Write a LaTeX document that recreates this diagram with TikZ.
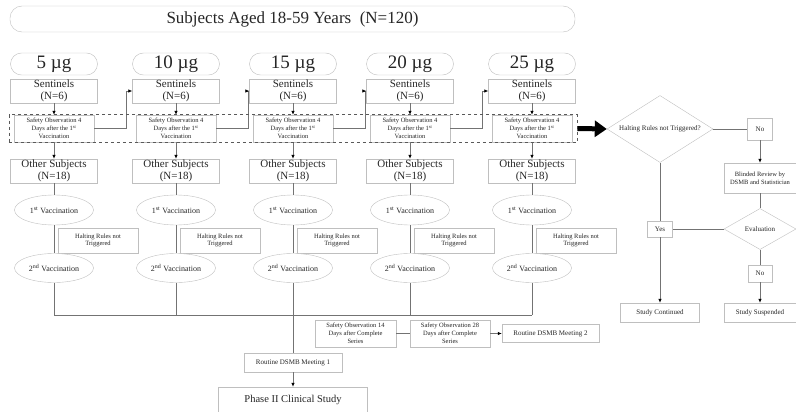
\documentclass[tikz,border=0pt]{standalone}
\usepackage{fontspec}
\setmainfont{Liberation Serif}
\usetikzlibrary{shapes.geometric, arrows.meta, fit}

\begin{document}
\begin{tikzpicture}[x=1pt, y=-1pt, >={Latex[length=4pt, width=3.5pt, color=black]},
	every node/.style={text=black!85, inner sep=0pt, align=center},
	box/.style={draw=black!25, fill=white},
	dose/.style={box, rounded corners=11pt, minimum width=87pt, minimum height=22pt, font=\fontsize{19}{20}\selectfont},
	big/.style={box, minimum width=87pt, minimum height=24pt, font=\fontsize{11}{12}\selectfont},
	small/.style={box, font=\fontsize{6.5}{7.8}\selectfont},
	label/.style={box, font=\fontsize{7}{8}\selectfont},
	oval/.style={box, ellipse, minimum width=79pt, minimum height=30pt, font=\fontsize{8}{9}\selectfont},
	dia/.style={box, diamond, font=\fontsize{7}{8}\selectfont},
	line/.style={draw=black!55, line width=0.7pt}]
	\useasboundingbox (0,0) rectangle (796,412);

	\node[box, rounded corners=12pt, minimum width=565pt, minimum height=26pt, font=\fontsize{17}{18}\selectfont] (title) at (292.5,19) {Subjects Aged 18-59 Years\ \ (N=120)};

	% one column per dose
	\foreach \i/\cx/\d in {1/54/5, 2/176/10, 3/293/15, 4/410/20, 5/532/25} {
		\node[dose] (d\i) at (\cx,64) {\d\ µg};
		\node[big] (s\i) at (\cx,91) {Sentinels\\(N=6)};
		\node[small, minimum width=80pt, minimum height=27pt] (f\i) at (\cx,128.5) {Safety Observation 4\\Days after the 1\textsuperscript{st}\\Vaccination};
		\node[big] (o\i) at (\cx,171) {Other Subjects\\(N=18)};
		\node[oval] (u\i) at (\cx,210) {1\textsuperscript{st} Vaccination};
		\node[small, minimum width=80pt, minimum height=25pt] (h\i) at (\cx+44,240.5) {Halting Rules not\\Triggered};
		\node[oval, minimum height=29pt] (w\i) at (\cx,268) {2\textsuperscript{nd} Vaccination};
		\draw[line, ->] (s\i) -- (f\i);
		\draw[line, ->] (f\i) -- (o\i);
		\draw[line] (o\i) -- (u\i);
		\draw[line] (u\i) -- (w\i);
	}
	\foreach \i/\j in {1/2, 2/3, 3/4, 4/5}
		\draw[line, ->] (f\i.east) -- ++(32,0) |- (s\j.west);

	\node[draw=black!65, dashed, semithick, fit=(f1)(f5), inner xsep=5pt, inner ysep=0pt] (obs) {};

	% after the second vaccination
	\coordinate (base) at (0,315);
	\foreach \i in {1,...,5}
		\draw[line] (w\i) -- (w\i |- base);
	\draw[line] (w1 |- base) -- (w5 |- base);

	\node[label, minimum width=98pt, minimum height=19pt] (m1) at (293,362.5) {Routine DSMB Meeting 1};
	\node[box, minimum width=149pt, minimum height=25pt, font=\fontsize{10.5}{12}\selectfont] (p2) at (293,399.5) {Phase II Clinical Study};
	\node[small, minimum width=81pt, minimum height=27pt] (t14) at (355.5,333.5) {Safety Observation 14\\Days after Complete\\Series};
	\node[small, minimum width=80pt, minimum height=27pt] (t28) at (450,333.5) {Safety Observation 28\\Days after Complete\\Series};
	\node[label, minimum width=97pt, minimum height=18pt] (m2) at (550.5,333.5) {Routine DSMB Meeting 2};

	\draw[line] (m1 |- base) -- (m1);
	\draw[line, ->] (m1) -- (p2);
	\draw[line] (t14) -- (t28);
	\draw[line, ->] (t28) -- (m2);

	% halting rules decision
	\node[dia, aspect=1.6, minimum width=106pt, minimum height=67pt] (q) at (660,129) {Halting Rules not Triggered?};
	\node[label, minimum width=25pt, minimum height=22pt] (n1) at (760,129) {No};
	\node[small, minimum width=72pt, minimum height=30pt] (br) at (760,178) {Blinded Review by\\DSMB and Statistician};
	\node[dia, aspect=1.75, minimum width=72pt, minimum height=41pt] (ev) at (760,229) {Evaluation};
	\node[label, minimum width=25pt, minimum height=16pt] (yes) at (660,229) {Yes};
	\node[label, minimum width=24pt, minimum height=17pt] (n2) at (760,273.5) {No};
	\node[label, minimum width=79pt, minimum height=19pt] (sc) at (660,312.5) {Study Continued};
	\node[label, minimum width=72pt, minimum height=19pt] (ss) at (760,312.5) {Study Suspended};

	\draw[line width=5pt, -{Triangle[length=12pt, width=16pt]}] (obs.east) -- (q.west);
	\draw[line] (q) -- (n1);
	\draw[line, ->] (n1) -- (br);
	\draw[line] (br) -- (ev);
	\draw[line] (ev) -- (yes);
	\draw[line] (q) -- (yes);
	\draw[line, ->] (yes) -- (sc);
	\draw[line] (ev) -- (n2);
	\draw[line, ->] (n2) -- (ss);

\end{tikzpicture}
\end{document}
